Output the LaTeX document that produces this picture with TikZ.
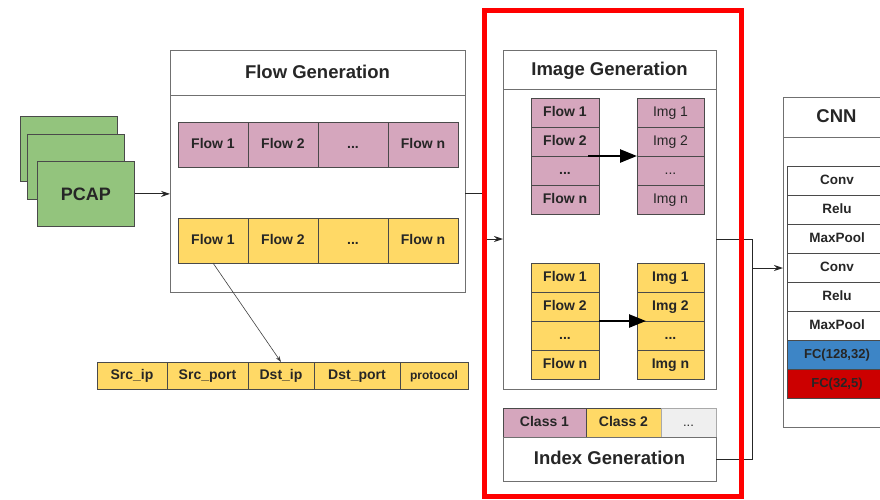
\documentclass[tikz,border=0pt]{standalone}
\usepackage{fontspec}
\setmainfont{Liberation Sans}
\usetikzlibrary{arrows.meta, positioning, calc}
\definecolor{pcapFill}{HTML}{93C47D}
\definecolor{pinkFill}{HTML}{D5A6BD}
\definecolor{yellowFill}{HTML}{FFD966}
\definecolor{greyFill}{HTML}{EFEFEF}
\definecolor{fcBlue}{HTML}{3D85C6}
\definecolor{fcRed}{HTML}{CC0000}
\definecolor{frameRed}{HTML}{FF0000}
\definecolor{panelBorder}{HTML}{707070}
\definecolor{cellBorder}{HTML}{4A4A4A}
\definecolor{labelColor}{HTML}{262626}

\begin{document}
\begin{tikzpicture}[
    x=1pt, y=-1pt,
    >=Stealth,
    panel/.style={
        draw=panelBorder, fill=white, line width=0.9pt,
        anchor=north west, inner sep=0pt, outer sep=0pt
    },
    titlebox/.style={
        panel, text=labelColor, text height=13pt, text depth=2pt,
        font=\bfseries\fontsize{18.5}{20}\selectfont
    },
    cell/.style={
        draw=cellBorder, line width=0.8pt, text=labelColor,
        inner sep=0pt, outer sep=0pt, minimum height=29pt,
        text height=10pt, text depth=2pt,
        font=\bfseries\fontsize{14}{16}\selectfont
    },
    pinkcell/.style={cell, fill=pinkFill},
    yellowcell/.style={cell, fill=yellowFill},
    layercell/.style={
        cell, fill=white, minimum width=100pt,
        font=\bfseries\fontsize{13.5}{15}\selectfont
    },
    pcapbox/.style={
        draw=cellBorder, fill=pcapFill, line width=0.8pt,
        minimum width=97pt, minimum height=65pt, anchor=north west,
        text=labelColor, font=\bfseries\fontsize{18}{20}\selectfont
    },
    midarrow/.style={
        -{Stealth[length=9pt,width=6pt]},
        black!85, line width=1pt
    },
    thinarrow/.style={
        -{Stealth[length=6pt,width=4pt]},
        black!75, line width=0.6pt
    },
    bigarrow/.style={
        -{Triangle[length=17pt,width=13pt]},
        black, line width=2.5pt
    },
    joinline/.style={black!85, line width=1pt},
]
\useasboundingbox (0,0) rectangle (880,499);

% ============================================================
%  PCAP
% ============================================================
\node[pcapbox] (pcap3) at (20,116) {};
\node[pcapbox] (pcap2) at (27,134) {};
\node[pcapbox] (pcap) at (37,161) {PCAP};

% ============================================================
%  FLOW GENERATION
% ============================================================
\node[panel, minimum width=295pt, minimum height=242pt] (flowgen) at (170,50) {};
\node[titlebox, minimum width=295pt, minimum height=45pt] (flowtitle)
    at (170,50) {Flow Generation};

\node[pinkcell, minimum width=70pt, minimum height=45pt, anchor=north west]
    (pf1) at (178,122) {Flow 1};
\node[pinkcell, minimum width=70pt, minimum height=45pt, right=0pt of pf1] (pf2) {Flow 2};
\node[pinkcell, minimum width=70pt, minimum height=45pt, right=0pt of pf2] (pf3) {...};
\node[pinkcell, minimum width=70pt, minimum height=45pt, right=0pt of pf3] (pf4) {Flow n};

\node[yellowcell, minimum width=70pt, minimum height=45pt, anchor=north west]
    (yf1) at (178,218) {Flow 1};
\node[yellowcell, minimum width=70pt, minimum height=45pt, right=0pt of yf1] (yf2) {Flow 2};
\node[yellowcell, minimum width=70pt, minimum height=45pt, right=0pt of yf2] (yf3) {...};
\node[yellowcell, minimum width=70pt, minimum height=45pt, right=0pt of yf3] (yf4) {Flow n};

% five-tuple fields
\node[yellowcell, minimum width=70pt, minimum height=27pt, anchor=north west]
    (srcip) at (97,362) {Src\_ip};
\node[yellowcell, minimum width=81pt, minimum height=27pt, right=0pt of srcip] (srcport) {Src\_port};
\node[yellowcell, minimum width=66pt, minimum height=27pt, right=0pt of srcport] (dstip) {Dst\_ip};
\node[yellowcell, minimum width=86pt, minimum height=27pt, right=0pt of dstip] (dstport) {Dst\_port};
\node[yellowcell, minimum width=68pt, minimum height=27pt, right=0pt of dstport,
      font=\bfseries\fontsize{12}{14}\selectfont] (proto) {protocol};

\draw[thinarrow] (yf1.south) -- (dstip.north);
\draw[midarrow] (pcap.east) -- (pcap.east -| flowgen.west);

% ============================================================
%  IMAGE GENERATION
% ============================================================
\node[panel, minimum width=213pt, minimum height=339pt] (imggen) at (503,50) {};
\node[titlebox, minimum width=213pt, minimum height=39pt] (imgtitle)
    at (503,50) {Image Generation};

% pink flows -> images
\node[pinkcell, minimum width=68pt, anchor=north west] (pl1) at (531,98) {Flow 1};
\node[pinkcell, minimum width=68pt, below=0pt of pl1] (pl2) {Flow 2};
\node[pinkcell, minimum width=68pt, below=0pt of pl2] (pl3) {...};
\node[pinkcell, minimum width=68pt, below=0pt of pl3] (pl4) {Flow n};

\node[pinkcell, minimum width=67pt, anchor=north west, font=\fontsize{14}{16}\selectfont]
    (pr1) at (637,98) {Img 1};
\node[pinkcell, minimum width=67pt, below=0pt of pr1, font=\fontsize{14}{16}\selectfont] (pr2) {Img 2};
\node[pinkcell, minimum width=67pt, below=0pt of pr2, font=\fontsize{14}{16}\selectfont] (pr3) {...};
\node[pinkcell, minimum width=67pt, below=0pt of pr3, font=\fontsize{14}{16}\selectfont] (pr4) {Img n};

% yellow flows -> images
\node[yellowcell, minimum width=68pt, anchor=north west] (yl1) at (531,263) {Flow 1};
\node[yellowcell, minimum width=68pt, below=0pt of yl1] (yl2) {Flow 2};
\node[yellowcell, minimum width=68pt, below=0pt of yl2] (yl3) {...};
\node[yellowcell, minimum width=68pt, below=0pt of yl3] (yl4) {Flow n};

\node[yellowcell, minimum width=67pt, anchor=north west] (yr1) at (637,263) {Img 1};
\node[yellowcell, minimum width=67pt, below=0pt of yr1] (yr2) {Img 2};
\node[yellowcell, minimum width=67pt, below=0pt of yr2] (yr3) {...};
\node[yellowcell, minimum width=67pt, below=0pt of yr3] (yr4) {Img n};

\draw[bigarrow] ($(pl2.south east)+(-11,0)$) -- (pr2.south west);
\draw[bigarrow] (yl2.south east) -- ($(yr2.south west)+(9,0)$);

% ============================================================
%  INDEX GENERATION
% ============================================================
\node[pinkcell, minimum width=83pt, anchor=north west] (cls1) at (503,408) {Class 1};
\node[yellowcell, minimum width=75pt, right=0pt of cls1] (cls2) {Class 2};
\node[cell, fill=greyFill, draw=panelBorder!60, minimum width=55pt, right=0pt of cls2,
      font=\fontsize{13}{15}\selectfont] (cls3) {...};
\node[titlebox, minimum width=213pt, minimum height=44pt, below=0pt of cls1.south west,
      anchor=north west] (idxgen) {Index Generation};

% ============================================================
%  CNN
% ============================================================
\node[panel, minimum width=107pt, minimum height=330pt] (cnn) at (783,97) {};
\node[titlebox, minimum width=107pt, minimum height=40pt] (cnntitle)
    at (783,97) {CNN};

\node[layercell, anchor=north west] (conv1) at (787,166) {Conv};
\node[layercell, below=0pt of conv1] (relu1) {Relu};
\node[layercell, below=0pt of relu1] (pool1) {MaxPool};
\node[layercell, below=0pt of pool1] (conv2) {Conv};
\node[layercell, below=0pt of conv2] (relu2) {Relu};
\node[layercell, below=0pt of relu2] (pool2) {MaxPool};
\node[layercell, below=0pt of pool2, fill=fcBlue,
      font=\bfseries\fontsize{13}{15}\selectfont] (fc1) {FC(128,32)};
\node[layercell, below=0pt of fc1, fill=fcRed,
      font=\bfseries\fontsize{13}{15}\selectfont] (fc2) {FC(32,5)};

% ============================================================
%  CONNECTORS
% ============================================================
\coordinate (jog) at (484,239);
\coordinate (merge) at (752,268);

\draw[joinline] (pcap.east -| flowgen.east) -| (jog);
\draw[midarrow] (jog) -- (jog -| imggen.west);
\draw[joinline] (jog -| imggen.east) -| (merge);
\draw[joinline] (idxgen.east) -| (merge);
\draw[midarrow] (merge) -- (merge -| cnn.west);

% highlight frame
\draw[frameRed, line width=5pt] (484.5,10.5) rectangle (741.5,496);

\end{tikzpicture}
\end{document}
